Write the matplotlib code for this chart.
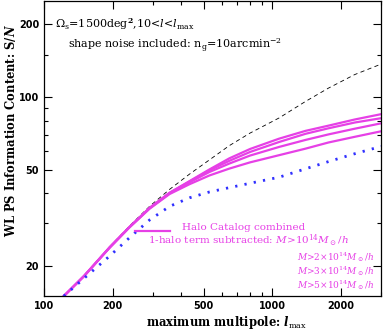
import numpy as np
import matplotlib
matplotlib.use("Agg")
import matplotlib.pyplot as plt
from matplotlib.ticker import FixedLocator, NullFormatter

plt.rcParams['font.family'] = ['DejaVu Serif']
plt.rcParams['mathtext.fontset'] = 'dejavuserif'

# максимальный мультиполь
lmax = [122, 150, 194, 237, 290, 355, 434, 531, 649, 800, 1072, 1400, 1765, 2300, 3000]

# гауссова оценка (штриховая)
sn_gauss = [15, 18.3, 24, 29.3, 35.3, 41.5, 48, 55, 63, 71, 82, 96, 109, 124, 137]
# каталог гало, вычитание 1-гало члена
sn_m1 = [15, 18.2, 23.9, 29.0, 34.8, 40.2, 44.9, 50.2, 55.8, 61, 67.3, 72.5, 76.2, 80.8, 85]
sn_m2 = [15, 18.2, 23.9, 29.0, 34.7, 40.1, 44.7, 49.8, 54.5, 59.3, 65.2, 70.5, 74.3, 78.5, 81.8]
sn_m3 = [15, 18.2, 23.9, 29.0, 34.7, 40.0, 44.4, 49.0, 53.1, 57.3, 62.2, 66.5, 70.1, 74, 77.9]
sn_m5 = [15, 18.2, 23.8, 28.9, 34.5, 39.7, 43.6, 47.4, 50.6, 53.7, 57.5, 61.2, 64.9, 68.5, 72.2]
# полная ковариация (пунктир)
sn_full = [15, 17.8, 22, 26.2, 31, 35.3, 38.3, 40.5, 42.2, 44, 46.6, 50.5, 54.1, 58.3, 62.5]

mag = '#e640e6'

fig = plt.figure(figsize=(3.83, 3.32), dpi=100)
ax = fig.add_axes([0.115, 0.108, 0.88, 0.889])

ax.plot(lmax, sn_gauss, color='black', lw=0.6, dashes=(5, 4))
for sn in [sn_m1, sn_m2, sn_m3, sn_m5]:
    ax.plot(lmax, sn, color=mag, lw=1.6)
ax.plot(lmax, sn_full, color='#3030ff', lw=2.0, dashes=(0.8, 2.6))

ax.set_xscale('log')
ax.set_yscale('log')
ax.set_xlim(100, 3000)
ax.set_ylim(15, 250)

ax.xaxis.set_major_locator(FixedLocator([100, 200, 500, 1000, 2000]))
ax.xaxis.set_minor_locator(FixedLocator([300, 400, 600, 700, 800, 900, 3000]))
ax.set_xticklabels(['100', '200', '500', '1000', '2000'])
ax.xaxis.set_minor_formatter(NullFormatter())
ax.yaxis.set_major_locator(FixedLocator([20, 50, 100, 200]))
ax.yaxis.set_minor_locator(FixedLocator([30, 40, 60, 70, 80, 90, 150]))
ax.set_yticklabels(['20', '50', '100', '200'])
ax.yaxis.set_minor_formatter(NullFormatter())

ax.tick_params(which='both', direction='in', top=True, right=True, labelsize=7, width=0.8)
ax.tick_params(which='major', length=6)
ax.tick_params(which='minor', length=3)
for lab in ax.get_xticklabels() + ax.get_yticklabels():
    lab.set_family('DejaVu Sans')
    lab.set_fontweight('bold')
for s in ax.spines.values():
    s.set_linewidth(0.9)

ax.set_xlabel(r'maximum multipole: $\boldsymbol{l}_{\rm max}$', fontsize=8.3, fontweight='bold')
ax.xaxis.set_label_coords(0.543, -0.06)
ax.set_ylabel(r'WL PS Information Content: S/$\boldsymbol{N}$', fontsize=8.3, fontweight='bold')
ax.yaxis.set_label_coords(-0.077, 0.56)

ax.text(0.033, 0.908, r'$\Omega_{\rm s}$=1500deg$^{\bf 2}$,10<$l$<$l_{\rm max}$',
        transform=ax.transAxes, fontsize=8)
ax.text(0.071, 0.835, r'shape noise included: n$_{\rm g}$=10arcmin$^{-2}$',
        transform=ax.transAxes, fontsize=8)

# легенда
ax.plot([0.27, 0.374], [0.22, 0.22], color=mag, lw=1.6, transform=ax.transAxes)
ax.text(0.41, 0.232, 'Halo Catalog combined', color=mag, fontsize=7.5,
        transform=ax.transAxes, va='center')
ax.text(0.309, 0.188, r'1-halo term subtracted: $M$>10$^{14}M_\odot/h$', color=mag, fontsize=7.5,
        transform=ax.transAxes, va='center')
ax.text(0.979, 0.134, r'$M$>2$\times$10$^{14}M_\odot/h$', color=mag, fontsize=6.5,
        transform=ax.transAxes, va='center', ha='right')
ax.text(0.979, 0.086, r'$M$>3$\times$10$^{14}M_\odot/h$', color=mag, fontsize=6.5,
        transform=ax.transAxes, va='center', ha='right')
ax.text(0.979, 0.038, r'$M$>5$\times$10$^{14}M_\odot/h$', color=mag, fontsize=6.5,
        transform=ax.transAxes, va='center', ha='right')

fig.savefig('out.png', dpi=100)
